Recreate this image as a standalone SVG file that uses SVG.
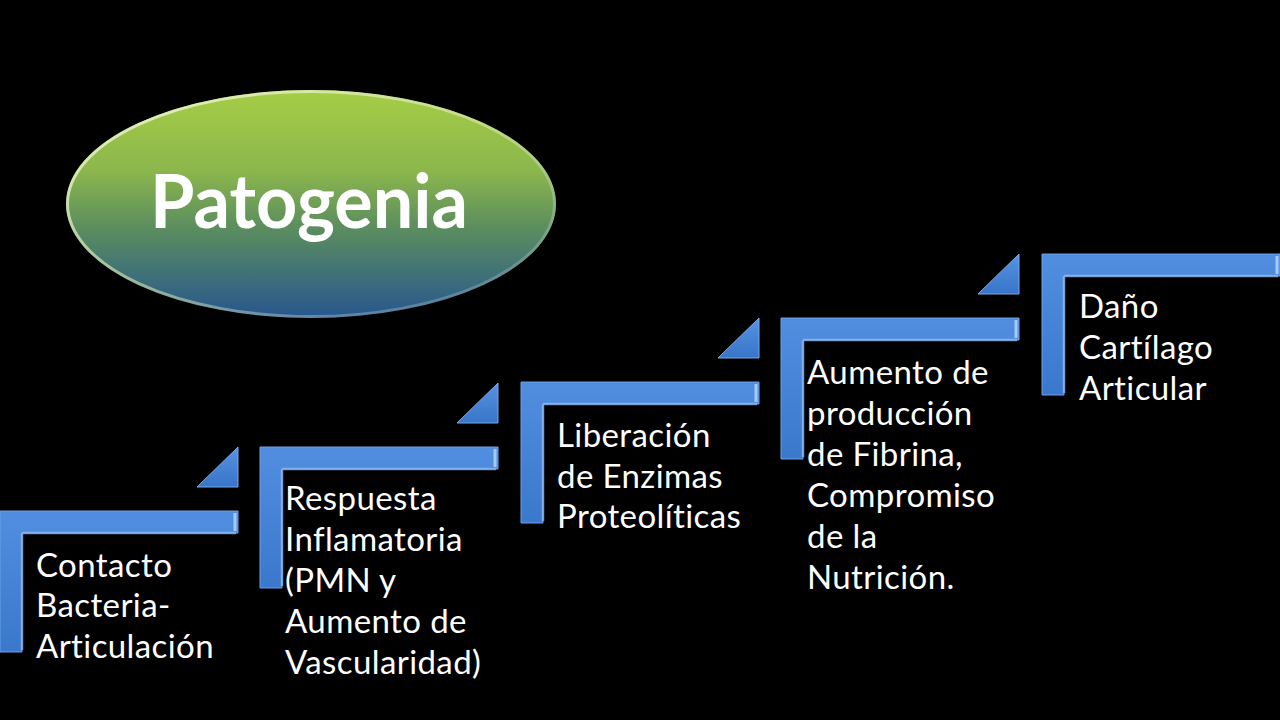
<svg xmlns="http://www.w3.org/2000/svg" width="1280" height="720" viewBox="0 0 1280 720">
  <defs>
    <linearGradient id="ellGrad" x1="0" y1="0" x2="0" y2="1">
      <stop offset="0" stop-color="#a6cd46"/>
      <stop offset="0.35" stop-color="#8cb74c"/>
      <stop offset="0.6" stop-color="#5c8e5e"/>
      <stop offset="1" stop-color="#27568f"/>
    </linearGradient>
    <linearGradient id="rimGrad" x1="0" y1="0" x2="1" y2="1">
      <stop offset="0" stop-color="#f2f8d8" stop-opacity="0.9"/>
      <stop offset="0.5" stop-color="#d9ecb0" stop-opacity="0.6"/>
      <stop offset="1" stop-color="#9ec0d8" stop-opacity="0.2"/>
    </linearGradient>
    <linearGradient id="barGrad" x1="0" y1="0" x2="0" y2="1">
      <stop offset="0" stop-color="#528ee0"/>
      <stop offset="1" stop-color="#3a78cc"/>
    </linearGradient>
    <linearGradient id="triGrad" x1="0" y1="0" x2="0" y2="1">
      <stop offset="0" stop-color="#5894e2"/>
      <stop offset="1" stop-color="#3874c8"/>
    </linearGradient>
    <g id="stepShape">
      <path class="bar" d="M0,0 H238 V22 H22 V141 H0 Z"/>
      <path class="hl" d="M22,22 H236 M22,22 V139"/>
      <path class="hl2" d="M235,2 V20"/>
    </g>
    <path id="triShape" class="tri" d="M197,-24 H238 V-64 Z"/>
  </defs>
  <style>
    .bar { fill: url(#barGrad); stroke: #6aa0e8; stroke-width: 1; }
    .hl { fill: none; stroke: #90bbf2; stroke-width: 2.5; stroke-opacity: 0.75; }
    .hl2 { fill: none; stroke: #a4caf6; stroke-width: 3; }
    .tri { fill: url(#triGrad); stroke: #76a8ea; stroke-width: 1; }
    .lbl { font-family: Lato, "Open Sans", "Liberation Sans", sans-serif; font-size: 33px; letter-spacing: 0.4px; fill: #ffffff; }
    .title { font-family: Lato, "Open Sans", "Liberation Sans", sans-serif; font-weight: 700; font-size: 74px; fill: #ffffff; }
  </style>
  <rect x="0" y="0" width="1280" height="720" fill="#000000"/>

  <g id="title-node">
    <ellipse cx="311" cy="204" rx="245" ry="114" fill="url(#ellGrad)"/>
    <ellipse cx="311" cy="204" rx="243.5" ry="112.5" fill="none" stroke="url(#rimGrad)" stroke-width="3"/>
    <text class="title" x="309" y="228" text-anchor="middle" textLength="318" lengthAdjust="spacingAndGlyphs">Patogenia</text>
  </g>

  <g id="connectors">
    <use href="#stepShape" x="0" y="511"/>
    <use href="#triShape" x="0" y="511"/>
    <use href="#stepShape" x="260" y="447"/>
    <use href="#triShape" x="260" y="447"/>
    <use href="#stepShape" x="521" y="382"/>
    <use href="#triShape" x="521" y="382"/>
    <use href="#stepShape" x="781" y="318"/>
    <use href="#triShape" x="781" y="318"/>
    <use href="#stepShape" x="1042" y="254"/>
  </g>

  <g id="step1">
    <text class="lbl" x="36"><tspan x="36" y="577">Contacto</tspan><tspan x="36" y="617">Bacteria-</tspan><tspan x="36" y="658">Articulación</tspan></text>
  </g>
  <g id="step2">
    <text class="lbl" x="285"><tspan x="285" y="510">Respuesta</tspan><tspan x="285" y="551">Inflamatoria</tspan><tspan x="285" y="592">(PMN y</tspan><tspan x="285" y="633">Aumento de</tspan><tspan x="285" y="674">Vascularidad)</tspan></text>
  </g>
  <g id="step3">
    <text class="lbl" x="557"><tspan x="557" y="447">Liberación</tspan><tspan x="557" y="488">de Enzimas</tspan><tspan x="557" y="528">Proteolíticas</tspan></text>
  </g>
  <g id="step4">
    <text class="lbl" x="807"><tspan x="807" y="384">Aumento de</tspan><tspan x="807" y="425">producción</tspan><tspan x="807" y="466">de Fibrina,</tspan><tspan x="807" y="507">Compromiso</tspan><tspan x="807" y="548">de la</tspan><tspan x="807" y="589">Nutrición.</tspan></text>
  </g>
  <g id="step5">
    <text class="lbl" x="1079"><tspan x="1079" y="318">Daño</tspan><tspan x="1079" y="359">Cartílago</tspan><tspan x="1079" y="400">Articular</tspan></text>
  </g>
</svg>
